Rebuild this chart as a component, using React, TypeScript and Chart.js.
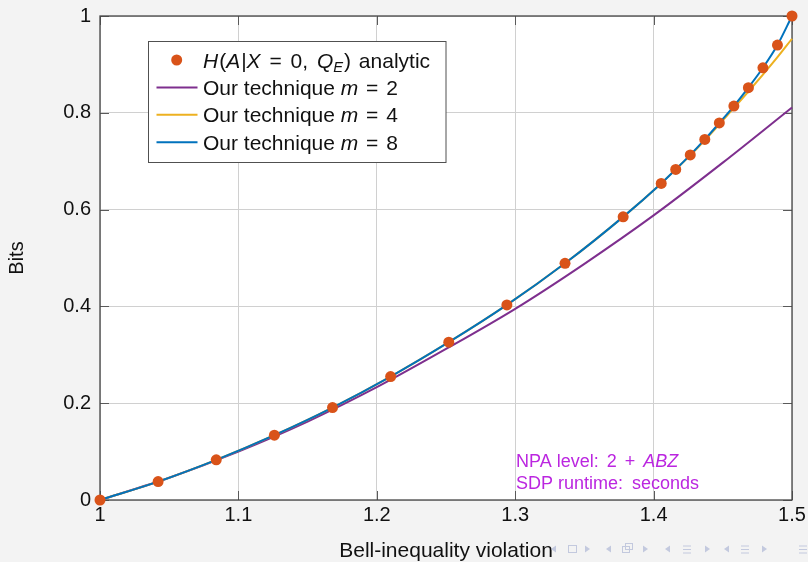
import React, { useEffect, useRef } from "react";
import { Chart, registerables } from "chart.js";

Chart.register(...registerables);

// ---------- data ----------
const xTickValues = [1, 1.1, 1.2, 1.3, 1.4, 1.5];
const xTickLabels = ["1", "1.1", "1.2", "1.3", "1.4", "1.5"];
const yTickValues = [0, 0.2, 0.4, 0.6, 0.8, 1];
const yTickLabels = ["0", "0.2", "0.4", "0.6", "0.8", "1"];

const analyticX = [1, 1.042, 1.084, 1.126, 1.168, 1.21, 1.252, 1.294, 1.336, 1.378, 1.4055, 1.416, 1.4265, 1.437, 1.4475, 1.458, 1.4685, 1.479, 1.4895, 1.5];
const analyticY = [0, 0.038, 0.083, 0.134, 0.191, 0.255, 0.326, 0.403, 0.489, 0.585, 0.654, 0.683, 0.713, 0.745, 0.779, 0.814, 0.852, 0.893, 0.94, 1.0];

const m8X = [1, 1.042, 1.084, 1.126, 1.168, 1.21, 1.252, 1.294, 1.336, 1.378, 1.4055, 1.416, 1.4265, 1.437, 1.4475, 1.458, 1.4685, 1.479, 1.4895, 1.5];
const m8Y = [0, 0.038, 0.083, 0.134, 0.191, 0.255, 0.326, 0.403, 0.489, 0.585, 0.654, 0.683, 0.713, 0.745, 0.779, 0.814, 0.852, 0.893, 0.94, 1.0];

const m4X = [1, 1.042, 1.084, 1.126, 1.168, 1.21, 1.252, 1.294, 1.336, 1.378, 1.4055, 1.416, 1.4265, 1.437, 1.4475, 1.458, 1.4685, 1.479, 1.4895, 1.5];
const m4Y = [0, 0.038, 0.083, 0.134, 0.191, 0.255, 0.326, 0.403, 0.489, 0.585, 0.654, 0.683, 0.712, 0.743, 0.776, 0.81, 0.844, 0.879, 0.915, 0.953];

const m2X = [1, 1.05, 1.1, 1.15, 1.2, 1.25, 1.3, 1.35, 1.4, 1.45, 1.5];
const m2Y = [0, 0.046, 0.1, 0.162, 0.233, 0.312, 0.395, 0.488, 0.588, 0.697, 0.811];

const legendLabels = ["analytic", "Our technique", "Our technique", "Our technique"];
const legendM = ["", "2", "4", "8"];
const annotationLabel1 = "NPA level:";
const annotationLevel = "2";
const annotationItalic = "ABZ";
const annotationLabel2 = "SDP runtime:";
const annotationValue2 = "seconds";
const xTitle = "Bell-inequality violation";
const yTitle = "Bits";

// ---------- styles ----------
const FONT = "'Liberation Sans', Arial, sans-serif";
const C_ANALYTIC = "#D95319";
const C_M2 = "#7E2F8E";
const C_M4 = "#EDB120";
const C_M8 = "#0072BD";
const C_NOTE = "#bb26e0";
const BG = "#f3f3f3";

type Seg = { t?: string; i?: boolean; sub?: boolean; gap?: number };

function drawRich(ctx: CanvasRenderingContext2D, x: number, y: number, segs: Seg[], size: number, color: string) {
  let cx = x;
  ctx.textBaseline = "alphabetic";
  ctx.textAlign = "left";
  ctx.fillStyle = color;
  for (const s of segs) {
    if (s.gap) { cx += s.gap; continue; }
    const t = s.t || "";
    const sz = s.sub ? size * 0.7 : size;
    ctx.font = `${s.i ? "italic " : ""}${sz}px ${FONT}`;
    ctx.fillText(t, cx, s.sub ? y + size * 0.2 : y);
    cx += ctx.measureText(t).width;
  }
  return cx;
}

const pts = (xs: number[], ys: number[]) => xs.map((x, i) => ({ x, y: ys[i] }));

const decorPlugin = {
  id: "decor",
  beforeDraw(chart: any) {
    const { ctx, chartArea: a } = chart;
    ctx.save();
    ctx.fillStyle = BG;
    ctx.fillRect(0, 0, chart.width, chart.height);
    ctx.fillStyle = "#ffffff";
    ctx.fillRect(a.left, a.top, a.right - a.left, a.bottom - a.top);
    ctx.restore();
  },
  beforeDatasetsDraw(chart: any) {
    const { ctx, chartArea: a, scales } = chart;
    const xs = scales.x, ys = scales.y;
    ctx.save();
    ctx.strokeStyle = "#5a5a5a";
    ctx.lineWidth = 1;
    const tl = 9;
    ctx.beginPath();
    for (const v of xTickValues) {
      const px = Math.round(xs.getPixelForValue(v)) + 0.5;
      ctx.moveTo(px, a.bottom); ctx.lineTo(px, a.bottom - tl);
      ctx.moveTo(px, a.top); ctx.lineTo(px, a.top + tl);
    }
    for (const v of yTickValues) {
      const py = Math.round(ys.getPixelForValue(v)) + 0.5;
      ctx.moveTo(a.left, py); ctx.lineTo(a.left + tl, py);
      ctx.moveTo(a.right, py); ctx.lineTo(a.right - tl, py);
    }
    ctx.stroke();
    ctx.strokeStyle = "#454545";
    ctx.lineWidth = 1.3;
    ctx.strokeRect(a.left, a.top, a.right - a.left, a.bottom - a.top);
    ctx.restore();
  },
  afterDraw(chart: any) {
    const { ctx } = chart;
    ctx.save();
    // legend box
    const bx = 148.5, by = 41.5, bw = 297.5, bh = 121;
    ctx.fillStyle = "#ffffff";
    ctx.fillRect(bx, by, bw, bh);
    ctx.strokeStyle = "#505050";
    ctx.lineWidth = 1;
    ctx.strokeRect(bx, by, bw, bh);
    const rowY = [60, 87.4, 114.8, 142.2];
    const colors = [C_ANALYTIC, C_M2, C_M4, C_M8];
    const textX = 203;
    const size = 21;
    ctx.fillStyle = C_ANALYTIC;
    ctx.beginPath();
    ctx.arc(176.7, rowY[0], 5.5, 0, Math.PI * 2);
    ctx.fill();
    drawRich(ctx, textX, rowY[0] + 7.5, [
      { t: "H", i: true }, { gap: 1 }, { t: "(" }, { t: "A", i: true }, { gap: 1 }, { t: "|" }, { t: "X", i: true },
      { gap: 3 }, { t: " = " }, { gap: 3 }, { t: "0," }, { gap: 3 }, { t: " " }, { t: "Q", i: true }, { t: "E", i: true, sub: true }, { gap: 1 }, { t: ")" },
      { gap: 2 }, { t: " " + legendLabels[0] },
    ], size, "#111");
    for (let r = 1; r < 4; r++) {
      ctx.strokeStyle = colors[r];
      ctx.lineWidth = 2;
      ctx.beginPath();
      ctx.moveTo(156.5, rowY[r]);
      ctx.lineTo(197.5, rowY[r]);
      ctx.stroke();
      drawRich(ctx, textX, rowY[r] + 7.5, [
        { t: legendLabels[r] + " " }, { t: "m", i: true }, { gap: 2 }, { t: " = " }, { gap: 2 }, { t: legendM[r] },
      ], size, "#111");
    }
    // annotation
    drawRich(ctx, 516, 467, [
      { t: annotationLabel1 }, { gap: 3 }, { t: " " + annotationLevel }, { gap: 3 }, { t: " + " }, { gap: 3 },
      { t: annotationItalic, i: true },
    ], 18, C_NOTE);
    drawRich(ctx, 516, 488.5, [{ t: annotationLabel2 }, { gap: 4 }, { t: " " + annotationValue2 }], 18, C_NOTE);

    // beamer navigation symbols (decoration)
    const nc = "#c3c9de";
    ctx.fillStyle = nc;
    ctx.strokeStyle = nc;
    ctx.lineWidth = 1;
    const cy = 549;
    const triL = (x: number) => { ctx.beginPath(); ctx.moveTo(x + 3, cy - 3.5); ctx.lineTo(x - 2, cy); ctx.lineTo(x + 3, cy + 3.5); ctx.closePath(); ctx.fill(); };
    const triR = (x: number) => { ctx.beginPath(); ctx.moveTo(x - 3, cy - 3.5); ctx.lineTo(x + 2, cy); ctx.lineTo(x - 3, cy + 3.5); ctx.closePath(); ctx.fill(); };
    const lines = (x: number) => {
      ctx.beginPath();
      for (let k = -1; k <= 1; k++) { ctx.moveTo(x - 4, cy + k * 3.5 + 0.5); ctx.lineTo(x + 4, cy + k * 3.5 + 0.5); }
      ctx.stroke();
    };
    triL(553); ctx.strokeRect(568.5, cy - 3.5, 8, 7); triR(588);
    triL(608); ctx.strokeRect(622.5, cy - 2.5, 7, 6); ctx.strokeRect(625.5, cy - 5.5, 7, 6); triR(646);
    triL(667); lines(687); triR(708);
    triL(726); lines(745); triR(765);
    lines(803);
    ctx.restore();
  },
};

export default function App() {
  const ref = useRef<HTMLCanvasElement | null>(null);
  useEffect(() => {
    document.body.style.margin = "0";
    document.body.style.background = BG;
    const canvas = ref.current!;
    const lineDs = (label: string, xs: number[], ys: number[], color: string, order: number) => ({
      label,
      data: pts(xs, ys),
      borderColor: color,
      backgroundColor: color,
      borderWidth: 2,
      pointRadius: 0,
      cubicInterpolationMode: "monotone",
      order,
      clip: false,
    });
    const chart = new Chart(canvas, {
      type: "line",
      data: {
        datasets: [
          {
            label: "analytic",
            data: pts(analyticX, analyticY),
            showLine: false,
            pointRadius: 5.5,
            pointBackgroundColor: C_ANALYTIC,
            pointBorderWidth: 0,
            borderColor: C_ANALYTIC,
            backgroundColor: C_ANALYTIC,
            order: 0,
            clip: false,
          },
          lineDs("m = 8", m8X, m8Y, C_M8, 1),
          lineDs("m = 4", m4X, m4Y, C_M4, 2),
          lineDs("m = 2", m2X, m2Y, C_M2, 3),
        ],
      },
      options: {
        responsive: false,
        animation: false,
        devicePixelRatio: 1,
        layout: { padding: { left: 0, right: 16, top: 16, bottom: 0 } },
        plugins: { legend: { display: false }, tooltip: { enabled: false } },
        events: [],
        scales: {
          x: {
            type: "linear",
            min: 1,
            max: 1.5,
            afterBuildTicks: (s: any) => { s.ticks = xTickValues.map((v) => ({ value: v })); },
            afterFit: (s: any) => { s.height = 62; s.paddingLeft = 0; s.paddingRight = 0; },
            ticks: {
              callback: (_v: any, i: number) => xTickLabels[i],
              font: { family: FONT, size: 20 },
              color: "#111",
              padding: 3,
              maxRotation: 0,
              autoSkip: false,
            },
            grid: { color: "#d0d0d0", lineWidth: 1, drawTicks: false },
            border: { display: false },
            title: {
              display: true,
              text: xTitle,
              font: { family: FONT, size: 21, lineHeight: 1 },
              color: "#111",
              padding: { top: 0, bottom: 0 },
            },
          },
          y: {
            type: "linear",
            min: 0,
            max: 1,
            afterBuildTicks: (s: any) => { s.ticks = yTickValues.map((v) => ({ value: v })); },
            afterFit: (s: any) => { s.width = 100; s.paddingTop = 0; s.paddingBottom = 0; },
            ticks: {
              callback: (_v: any, i: number) => yTickLabels[i],
              font: { family: FONT, size: 20 },
              color: "#111",
              padding: 9,
              autoSkip: false,
            },
            grid: { color: "#d0d0d0", lineWidth: 1, drawTicks: false },
            border: { display: false },
            title: {
              display: true,
              text: yTitle,
              font: { family: FONT, size: 20, lineHeight: 1.2 },
              color: "#111",
              padding: { top: 5, bottom: 0 },
            },
          },
        },
      },
      plugins: [decorPlugin],
    } as any);
    return () => chart.destroy();
  }, []);
  return <canvas ref={ref} width={808} height={562} style={{ display: "block" }} />;
}
